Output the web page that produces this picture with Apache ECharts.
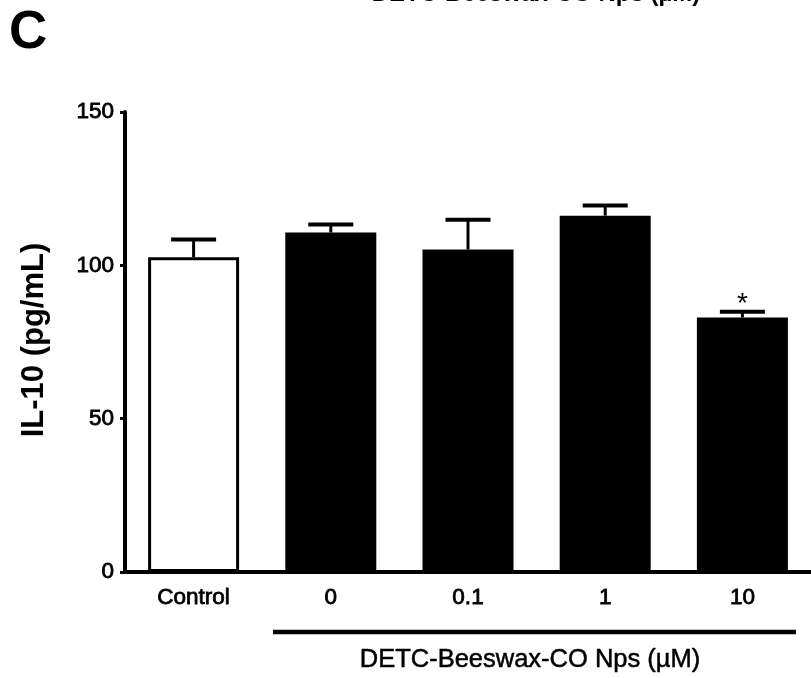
<!DOCTYPE html>
<html><head><meta charset="utf-8">
<script src="https://cdn.jsdelivr.net/npm/echarts@6/dist/echarts.min.js"></script>
<style>html,body{margin:0;padding:0;background:#fff}#c{width:811px;height:678px}</style>
</head><body><div id="c"></div>
<script>
const categories = ["Control", "0", "0.1", "1", "10"];
const means = [102.6, 110.7, 105.2, 116.2, 83.0];
const errors = [5.8, 2.6, 9.7, 3.3, 1.9];
const significance = ["", "", "", "", "*"];
const yMin = 0, yMax = 150, yStep = 50;
const yTitle = "IL-10 (pg/mL)";
const groupTitle = "DETC-Beeswax-CO Nps (µM)";
const panelLetter = "C";

const FONT = "'Liberation Sans', Arial, sans-serif";
const chart = echarts.init(document.getElementById('c'), null, {renderer: 'canvas'});

const barData = means.map((v, i) => ({
  value: v,
  itemStyle: {color: i === 0 ? '#ffffff' : '#000000', borderColor: '#000', borderWidth: 3}
}));
const errData = means.map((v, i) => [i, v, errors[i]]);

const labelStyle = {color: '#000', fontSize: 22.5, fontFamily: FONT, textBorderColor: '#000', textBorderWidth: 0.8};

chart.setOption({
  animation: false,
  backgroundColor: '#ffffff',
  grid: {left: 125, top: 112, width: 687.5, bottom: 106, containLabel: false},
  xAxis: {
    type: 'category', data: categories, boundaryGap: true,
    axisLine: {lineStyle: {color: '#000', width: 4}},
    axisTick: {alignWithLabel: true, length: 5, lineStyle: {color: '#000', width: 3}},
    axisLabel: Object.assign({margin: 14}, labelStyle)
  },
  yAxis: {
    type: 'value', min: yMin, max: yMax, interval: yStep,
    splitLine: {show: false},
    axisLine: {show: true, lineStyle: {color: '#000', width: 4}},
    axisTick: {show: true, length: 5, lineStyle: {color: '#000', width: 3}},
    axisLabel: Object.assign({margin: 11}, labelStyle)
  },
  series: [
    {type: 'bar', data: barData, barWidth: 91, z: 2},
    {
      type: 'custom', z: 3, data: errData,
      renderItem: function (params, api) {
        const i = api.value(0), m = api.value(1), e = api.value(2);
        const base = api.coord([i, m]);
        const top = api.coord([i, m + e]);
        const half = 22.5;
        const children = [
          {type: 'line', shape: {x1: base[0], y1: base[1], x2: top[0], y2: top[1]}, style: {stroke: '#000', lineWidth: 3}},
          {type: 'line', shape: {x1: top[0] - half, y1: top[1], x2: top[0] + half, y2: top[1]}, style: {stroke: '#000', lineWidth: 4}}
        ];
        const s = significance[i];
        if (s) {
          children.push({type: 'text', style: {text: s, x: top[0], y: top[1] - 7, align: 'center', verticalAlign: 'middle', fontSize: 28, fontFamily: FONT, fill: '#000'}});
        }
        return {type: 'group', children: children};
      }
    }
  ],
  graphic: [
    {type: 'text', x: 9, y: 33, style: {text: panelLetter, fontSize: 53, fontWeight: 'bold', fontFamily: FONT, fill: '#000', align: 'left', verticalAlign: 'middle'}},
    {type: 'text', x: 536, y: -5.5, style: {text: groupTitle, fontSize: 24, fontWeight: 'bold', fontFamily: FONT, fill: '#000', align: 'center', verticalAlign: 'middle'}},
    {type: 'text', x: 34, y: 340, rotation: Math.PI / 2, style: {text: yTitle, fontSize: 31, fontWeight: 'bold', fontFamily: FONT, fill: '#000', align: 'center', verticalAlign: 'middle'}},
    {type: 'line', shape: {x1: 273, y1: 632, x2: 796, y2: 632}, style: {stroke: '#000', lineWidth: 4.5}},
    {type: 'text', x: 530, y: 660, style: {text: groupTitle, fontSize: 25.5, fontFamily: FONT, fill: '#000', stroke: '#000', lineWidth: 0.5, align: 'center', verticalAlign: 'middle'}}
  ]
});
</script>
</body></html>
